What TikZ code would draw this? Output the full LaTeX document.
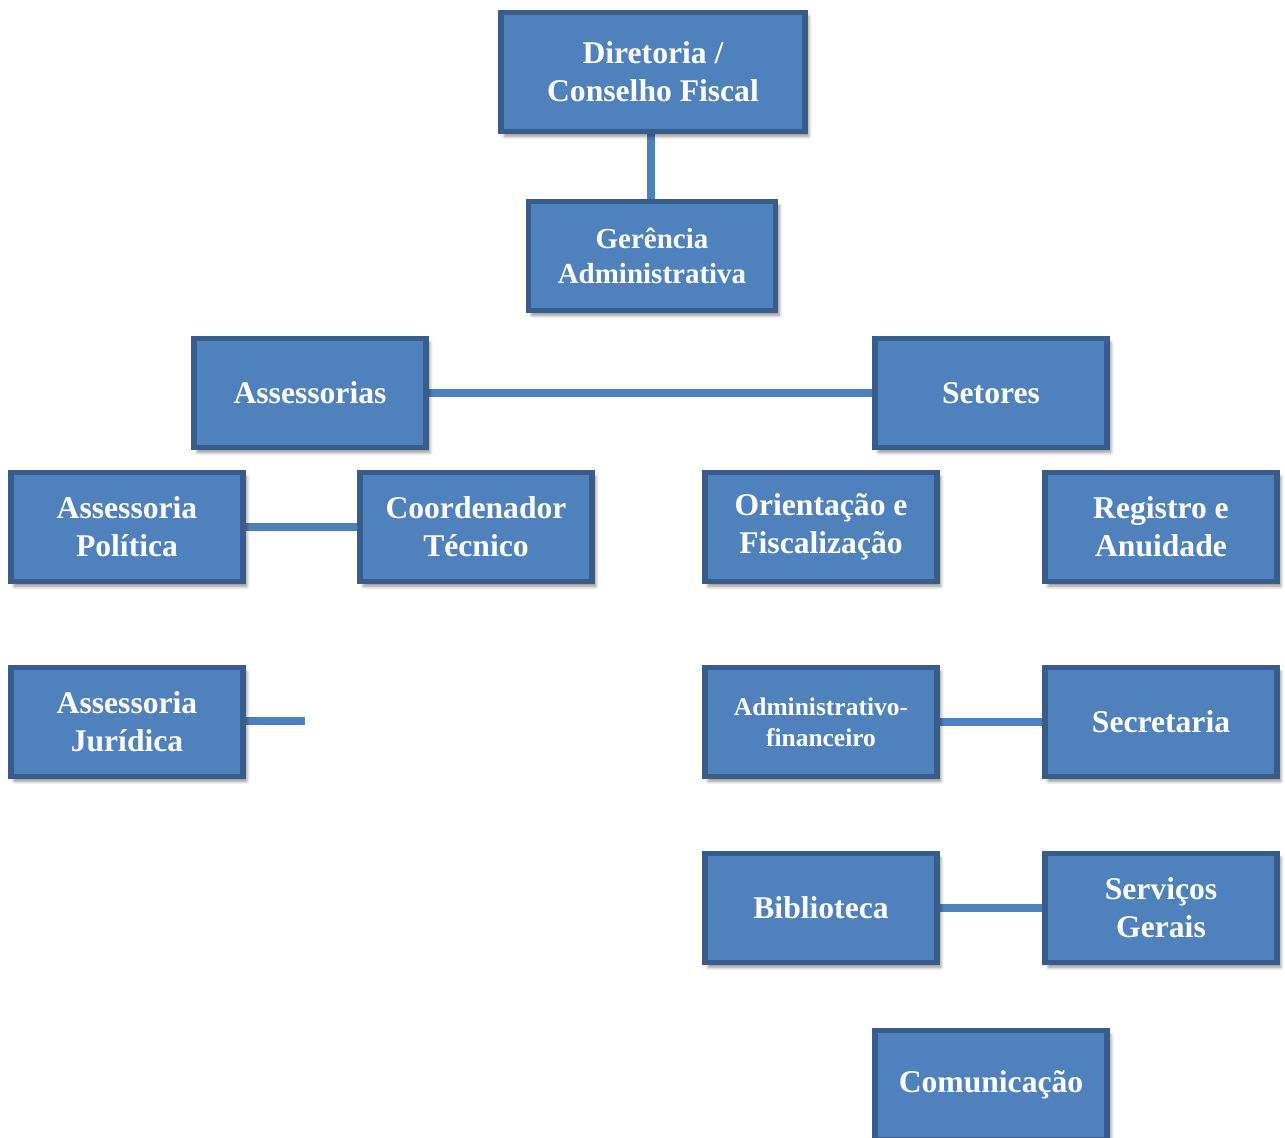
\documentclass[tikz,border=0pt]{standalone}
\usepackage{fontspec}
\setmainfont{Liberation Serif}
\usetikzlibrary{positioning,shadows.blur,backgrounds}
\definecolor{orgfill}{HTML}{4F81BD}
\definecolor{orgline}{HTML}{385D8A}

\begin{document}
\begin{tikzpicture}[x=0.02cm,y=-0.02cm,
    orgbox/.style={draw=orgline,fill=orgfill,line width=0.11cm,text=white,align=center,
      font=\bfseries\fontsize{18}{21.5}\selectfont,inner sep=2pt,
      minimum width=4.65cm,minimum height=2.19cm,
      blur shadow={shadow xshift=0.07cm,shadow yshift=-0.09cm,shadow opacity=45,shadow blur steps=6}},
    link/.style={draw=orgfill,line width=0.16cm}]
      \useasboundingbox (0,0) rectangle (1285,1138);
      \node[orgbox,minimum width=6.09cm,minimum height=2.39cm](dir) at (653,72){Diretoria /\\Conselho Fiscal};
      \node[orgbox,minimum width=4.95cm,font=\bfseries\fontsize{16.5}{19.5}\selectfont](ger) at (652,256){Gerência\\Administrativa};
      \node[orgbox](ass) at (310,393){Assessorias};
      \node[orgbox](set) at (991,393){Setores};
      \node[orgbox](pol) at (127,527){Assessoria\\Política};
      \node[orgbox](coo) at (476,527){Coordenador\\Técnico};
      \node[orgbox](ori) at (821,527){Orientação e\\Fiscalização};
      \node[orgbox](reg) at (1161,527){Registro e\\Anuidade};
      \node[orgbox](jur) at (127,722){Assessoria\\Jurídica};
      \node[orgbox,font=\bfseries\fontsize{14.5}{17.5}\selectfont](adm) at (821,722){Administrativo-\\financeiro};
      \node[orgbox](sec) at (1161,722){Secretaria};
      \node[orgbox](bib) at (821,908){Biblioteca};
      \node[orgbox](ser) at (1161,908){Serviços\\Gerais};
      \node[orgbox](com) at (991,1085){Comunicação};
      \coordinate (jurend) at (305,721);
      \begin{scope}[on background layer]
        \draw[link] (ger.north -| 651,0) -- (dir.south -| 651,0);
        \draw[link] (ass.east) -- (set.west);
        \draw[link] (pol.east) -- (coo.west);
        \draw[link] (jur.east |- jurend) -- (jurend);
        \draw[link] (adm.east) -- (sec.west);
        \draw[link] (bib.east) -- (ser.west);
      \end{scope}
    \end{tikzpicture}
\end{document}
